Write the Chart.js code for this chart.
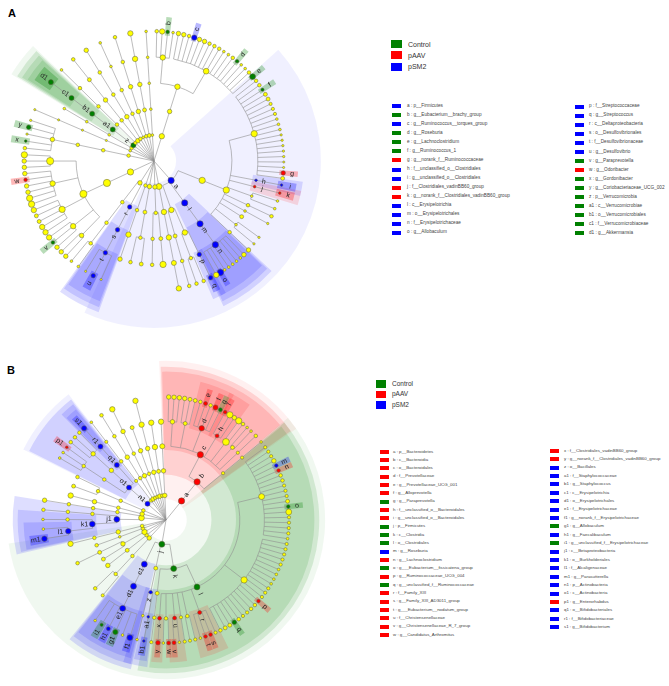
<!DOCTYPE html>
<html>
<head>
<meta charset="utf-8">
<script src="https://cdn.jsdelivr.net/npm/chart.js@4.4.0/dist/chart.umd.min.js"></script>
<style>
  body { margin: 0; width: 669px; height: 686px; overflow: hidden; background: #fff; position: relative;
         font-family: "Liberation Sans", Arial, sans-serif; }
  canvas { position: absolute; }
  .tag { position: absolute; font-weight: bold; font-size: 11px; color: #000; }
  .sw { position: absolute; }
  .tx { position: absolute; white-space: nowrap; color: #444; }
</style>
</head>
<body>
<div class="tag" style="left:8px;top:7px">A</div>
<div class="tag" style="left:7px;top:364px">B</div>
<canvas id="cladeA" width="350" height="350" style="left:-21px;top:-14px"></canvas>
<canvas id="cladeB" width="340" height="340" style="left:-4px;top:350px"></canvas>
<div id="legends"></div>
<script>
// groepen (C = Control, P = pAAV, S = pSM2)
const groups = ["Control", "pAAV", "pSM2"];
const groupColors = ["#008000", "#ff0000", "#0000ff"];
const shadeRGB = ["0,128,0", "255,0,0", "0,0,255"];

// boom A, met de klok mee vanaf boven. label:groep ^grootte ~gewicht +uitbreiding, #n = n gewone bladeren
const treeA = `
^3(^2.5(^3(^3(#1^2,#1^3,b:C^2,#1^1.5),^3.2(#2^2.5,#1^2,c:S^3,#2^2.5,#3^2,#2^1.5,#1^2,d:C^2,#2^1.5,#1^2,e:C^3.2)))),
a:S^3.5+4(
  ^3.5(^3.5(
    ^3.5(#2^2,f:C^1.8,#2^2.2,#3^1.8,#3^1.5,#2^1.3,#3^1.3,#2^1.2,g:P^2.5,#1^2.2),
    h:S^1.5(i:S^1.5~1.5),j:P^1.5(k:P^1.5~1.5),
    ^1.5(#2^1.5~1.5),^2(^2~1.5),^1.5(^1.3~1.5),^2.2~1.5,^1.5(#2^1.3~1.5),^2(^2.5~1.5))),
  l:S^3.5(m:S^3.5(n:S^3.5(#1^2.5~0.9,#5^1.5~0.9,o:S^3.5~0.9,#1^3~0.9))),
  ^3(^3(p:S^2.5(q:S^2.5~1.4),^2(#2^2~1.4)),^2.2(^2(^2~1.4)))),
^3.3(^3(^3(^2.8(^3~2.5)))),
^2.5(^2(^2.2(^3.5~2.5),^2(^2~2.5))),
^2.5(^2.2(^2(^2.2~2.5,^2~2.5))),
^2(^2(^3(^2.5~2.5))),
^2.5(r:S^2.5(s:S^2.5(t:S^2.5(^1.2~1.6,u:S^2.5~1.6,^1.2~1.6))),^2(^2(^2(^1.5~1.6,^1.5~1.6)))),
^3.5(^4(^4(^2.5(#2^2.5~1.15),^3(#1^2.5~1.15,v:C^2~1.15,#1^3~1.15),^3.5(#2^3~1.15,#2^2.2~1.15,#1^3~1.15),
  ^3(#2^3.5~1.15,#2^2.5~1.15,w:P^2~1.15,#1^2.5~1.15),^4(#2^2.5~1.15,#1^3.5~1.15)))),
^2(^2(^2(^2.5(#1^2~1.3,x:C^1.5~1.3,#1^1.3~1.3,y:C^2.5~1.3,#1^1.3~1.3)))),
^1.5(^1.2(^1.2(^1.2(^1.2~2.9)))),
^2(^1.5(^1.5(^1.5~2.9))),
z:C^2.8(a1:C^2.8(b1:C^2.8(c1:C^2.8(d1:C^2.8~3)))),
^2(^2(^2(^2(^1.5~2.9)))),
^2.5(^2(^2.5(^2.2(^2~2.9)))),
^2(^2.5(^2(^2(^2.5~2.9)))),
^1.5(^2(^2(^1.5(^1.5~2.9)))),
^2(^2.5(^2.5(^2(^2~2.9)))),
^2.2(^2.2(^2.5(^3(^3~2.9)))),
^1.5(^1.5(^1.5(^1.5(^1.5~2.9))))`;

const treeB = `
a:P^3.5(b:P^3.5(c:P^3.5(^2.5(#3^2.5),^2.2(#1^2.5,#2^2.2),d:P^3(#1^2,e:P^2.2,#1^2,f:P^2.8,g:C^2.2),
  h:P^2.2(i:P^2,^3.5,^2.5),^3.8(^3.5,^2),^2.2(^1.5,^1.5),^1.8(^2~1.5)),^1.8(^1.8(^1.5~1.5)))),
j:C^3.3+5(
  k:C^3.3(
    l:C^3.3(
      ^3.3(#3^1.8,#1^2.5,m:S^2,n:P^2,#2^2,#3^1.8,#1^2.2,o:C^2,#1^3.3,#4^1.8,#1^1.5),
      ^3.5(#5^1.8,#4^1.5,#3^1.8,p:P^2,#2^2,#2^1.8,#1^2,q:C^2.5,#2^2.2,#1^2),
      r:P^2.2(#1^1.8,s:P^2,t:P^2,#1^1.5),^2(#2^1.8),^1.8(^1.8),
      u:P^2.2(#1^1.5,v:P^2.2),^2(w:P^2.2,^1.5),x:P^2.2(y:P^2.5)),
    ^2.2(^2(^1.8~1.5))),
  ^2.2(z:S^2(a1:S^1.5(b1:S^1.5~1.3),^1.5(^1.5~1.3))),
  c1:S^3.3(d1:S^3.3(e1:S^3.3(f1:S^3.2~1.45,#1^1.5~1.45,g1:C^2.8~1.45,h1:S^2.2~1.45,i1:C^1.8~1.45,#1^1.5~1.45)))),
^2.5(^2(^2(^1.8~2.4,^2~2.4))),
^2(^2.2(^2.5~2.4)),
^3(^2.5(^2.2~2.4,^2.2(^2~2.4))),
^2(^1.5(^2~2.4)),
^2(^2.5(^2(^3~2.4))),
^3.2(j1:S^3.2(k1:S^3.2(l1:S^3(m1:S^3~1.8,^1.5~1.8),^2(^1.5~1.8)),^2(^2(^2~1.8))),^2(^2(^2(^2.5~1.8)))),
^2.5(^2(^2.5(^3~2.3))),
^2(^2(^2(^2.2~2.3,^2~2.3))),
n1:S^2.8(o1:S^2.8(^2(^2(#2^1.5~1.2,p1:P^1.5~1.2)),^2.5(^2.5(#3^2~1.2)),q1:S^2.8(r1:S^2.8(s1:S^2.8~1.2)))),
^2(^1.8(^2(^1.8(^1.5~2.3)))),
^2.5(^2(^2.5(^2(^2~2.3)))),
^2(^2.5(^2(^2.5(^3~2.3)))),
^2(^2(^2.5(^2.2~2.3))),
^2.5(^2.5(^2.5(^3(^3~2.3)))),
^2(^2.2(^3(^3~2.3))),
^2.5(^2.5(^2.8(^3~2.3)))`;

// legenda teksten
const lettersA = ["a","b","c","d","e","f","g","h","i","j","k","l","m","n","o",
                  "p","q","r","s","t","u","v","w","x","y","z","a1","b1","c1","d1"];
const taxaA = ["p__Firmicutes","g__Eubacterium__brachy_group","g__Ruminococcus__torques_group","g__Roseburia",
  "g__Lachnoclostridium","g__Ruminococcus_1","g__norank_f__Ruminococcaceae","f__unclassified_o__Clostridiales",
  "g__unclassified_o__Clostridiales","f__Clostridiales_vadinBB60_group","g__norank_f__Clostridiales_vadinBB60_group",
  "c__Erysipelotrichia","o__Erysipelotrichales","f__Erysipelotrichaceae","g__Allobaculum",
  "f__Streptococcaceae","g__Streptococcus","c__Deltaproteobacteria","o__Desulfovibrionales","f__Desulfovibrionaceae",
  "g__Desulfovibrio","g__Paraprevotella","g__Odoribacter","g__Gordonibacter","g__Coriobacteriaceae_UCG_002",
  "p__Verrucomicrobia","c__Verrucomicrobiae","o__Verrucomicrobiales","f__Verrucomicrobiaceae","g__Akkermansia"];
const lettersB = ["a","b","c","d","e","f","g","h","i","j","k","l","m","n","o","p","q","r","s","t","u","v","w",
                  "x","y","z","a1","b1","c1","d1","e1","f1","g1","h1","i1","j1","k1","l1","m1","n1","o1","p1","q1","r1","s1"];
const taxaB = ["p__Bacteroidetes","c__Bacteroidia","o__Bacteroidales","f__Prevotellaceae","g__Prevotellaceae_UCG_001",
  "g__Alloprevotella","g__Paraprevotella","f__unclassified_o__Bacteroidales","g__unclassified_o__Bacteroidales",
  "p__Firmicutes","c__Clostridia","o__Clostridiales","g__Roseburia","g__Lachnoclostridium",
  "g___Eubacterium__fissicatena_group","g__Ruminococcaceae_UCG_004","g__unclassified_f__Ruminococcaceae",
  "f__Family_XIII","g__Family_XIII_AD3011_group","g___Eubacterium__nodatum_group","f__Christensenellaceae",
  "g__Christensenellaceae_R_7_group","g__Candidatus_Arthromitus",
  "f__Clostridiales_vadinBB60_group","g__norank_f__Clostridiales_vadinBB60_group","o__Bacillales",
  "f__Staphylococcaceae","g__Staphylococcus","c__Erysipelotrichia","o__Erysipelotrichales","f__Erysipelotrichaceae",
  "g__norank_f__Erysipelotrichaceae","g__Allobaculum","g__Faecalibaculum","g__unclassified_f__Erysipelotrichaceae",
  "c__Betaproteobacteria","o__Burkholderiales","f__Alcaligenaceae","g__Parasutterella","p__Actinobacteria",
  "c__Actinobacteria","g__Enterorhabdus","o__Bifidobacteriales","f__Bifidobacteriaceae","g__Bifidobacterium"];

// boom-tekst inlezen
function parseTree(src) {
  const str = src.replace(/\s+/g, "");
  let i = 0;
  function num() {
    const m = /^[0-9.]+/.exec(str.slice(i));
    i += m[0].length;
    return parseFloat(m[0]);
  }
  function mods(n) {
    while (i < str.length && ":^~+".includes(str[i])) {
      const c = str[i++];
      if (c === ":") n.group = "CPS".indexOf(str[i++]);
      else if (c === "^") n.size = num();
      else if (c === "~") n.weight = num();
      else n.ext = num();
    }
  }
  function item() {
    if (str[i] === "#") {
      i++;
      const count = num();
      const proto = {};
      mods(proto);
      return Array.from({ length: count }, () => ({ ...proto, children: [] }));
    }
    const n = { children: [] };
    const m = /^[a-z][0-9]?/.exec(str.slice(i));
    if (m) { n.label = m[0]; i += m[0].length; }
    mods(n);
    if (str[i] === "(") { i++; n.children = list(); i++; }
    return [n];
  }
  function list() {
    const out = item();
    while (str[i] === ",") { i++; out.push(...item()); }
    return out;
  }
  return { children: list() };
}

// hoeken en stralen uitrekenen
function layout(root, ring) {
  const leaves = [], nodes = [];
  (function walk(n, d) {
    n.depth = d;
    n.r = d * ring;
    if (d > 0) nodes.push(n);
    n.children.forEach(c => walk(c, d + 1));
    if (!n.children.length) leaves.push(n);
  })(root, 0);
  const total = leaves.reduce((s, l) => s + (l.weight || 1), 0);
  let cum = 0;
  leaves.forEach(l => {
    l.a0 = cum / total * 360;
    cum += l.weight || 1;
    l.a1 = cum / total * 360;
    l.ang = (l.a0 + l.a1) / 2;
  });
  (function up(n) {
    if (!n.children.length) return;
    n.children.forEach(up);
    n.a0 = n.children[0].a0;
    n.a1 = n.children[n.children.length - 1].a1;
    n.ang = n.children.reduce((s, c) => s + c.ang, 0) / n.children.length;
  })(root);
  (function ext(n) {
    n.children.forEach((c, k) => {
      c.s1 = c.ext ? n.children[k + c.ext].a1 : c.a1;
      ext(c);
    });
  })(root);
  return nodes;
}

const defaultSize = [0, 3, 2.8, 2.5, 2.2, 1.8];
const sizeScale = 0.9;

function makeClade(canvasId, src, ring, range, outer) {
  const root = parseTree(src);
  const nodes = layout(root, ring);
  const toRad = d => (d - 90) * Math.PI / 180;

  const cladePlugin = {
    id: "clade",
    beforeDatasetsDraw(chart) {
      const ctx = chart.ctx;
      const cx = chart.scales.x.getPixelForValue(0);
      const cy = chart.scales.y.getPixelForValue(0);
      const k = chart.scales.x.getPixelForValue(1) - cx;
      ctx.save();
      // gekleurde sectoren voor de biomarkers
      nodes.filter(n => n.group >= 0).sort((p, q) => p.depth - q.depth).forEach(n => {
        const leaf = !n.children.length;
        let a0, a1, r0, r1, alpha;
        if (leaf) {
          const half = Math.max((n.a1 - n.a0) * 0.45, 2.6 / n.r * 180 / Math.PI);
          a0 = n.ang - half; a1 = n.ang + half;
          r0 = n.r - 4; r1 = n.r + 15; alpha = 0.28;
        } else {
          const pad = (6 - n.depth) * 0.5;
          a0 = n.a0 - pad; a1 = n.s1 + pad;
          r0 = n.r - 4; r1 = outer[n.depth];
          alpha = n.depth === 1 ? 0.06 : 0.13;
        }
        ctx.fillStyle = `rgba(${shadeRGB[n.group]},${alpha})`;
        ctx.beginPath();
        ctx.arc(cx, cy, r1 * k, toRad(a0), toRad(a1));
        ctx.arc(cx, cy, Math.max(r0, 0) * k, toRad(a1), toRad(a0), true);
        ctx.closePath();
        ctx.fill();
      });
      // takken
      ctx.strokeStyle = "#8e8e8e";
      ctx.lineWidth = 0.6;
      [root, ...nodes].forEach(n => {
        if (!n.children.length) return;
        ctx.beginPath();
        n.children.forEach(c => {
          const t = toRad(c.ang);
          ctx.moveTo(cx + n.r * k * Math.cos(t), cy + n.r * k * Math.sin(t));
          ctx.lineTo(cx + c.r * k * Math.cos(t), cy + c.r * k * Math.sin(t));
        });
        ctx.stroke();
        if (n.r > 0 && n.children.length > 1) {
          const angs = n.children.map(c => c.ang);
          ctx.beginPath();
          ctx.arc(cx, cy, n.r * k, toRad(Math.min(...angs)), toRad(Math.max(...angs)));
          ctx.stroke();
        }
      });
      ctx.restore();
    },
    afterDatasetsDraw(chart) {
      const ctx = chart.ctx;
      const cx = chart.scales.x.getPixelForValue(0);
      const cy = chart.scales.y.getPixelForValue(0);
      const k = chart.scales.x.getPixelForValue(1) - cx;
      ctx.save();
      ctx.fillStyle = "#222";
      ctx.font = '7px "Liberation Sans", Arial, sans-serif';
      ctx.textAlign = "center";
      ctx.textBaseline = "middle";
      nodes.filter(n => n.label).forEach(n => {
        const rr = (n.r + (n.children.length ? 8 : 9)) * k;
        const t = toRad(n.ang);
        ctx.save();
        ctx.translate(cx + rr * Math.cos(t), cy + rr * Math.sin(t));
        const rot = n.ang <= 180 ? n.ang - 90 : n.ang - 270;
        ctx.rotate(rot * Math.PI / 180);
        ctx.fillText(n.label, 0, 0);
        ctx.restore();
      });
      ctx.restore();
    }
  };

  const radii = nodes.map(n => (n.size || defaultSize[n.depth]) * sizeScale);
  new Chart(document.getElementById(canvasId), {
    type: "scatter",
    data: {
      datasets: [{
        data: nodes.map(n => ({
          x: n.r * Math.sin(n.ang * Math.PI / 180),
          y: n.r * Math.cos(n.ang * Math.PI / 180)
        })),
        pointRadius: radii,
        pointHoverRadius: radii,
        pointBackgroundColor: nodes.map(n => n.group >= 0 ? groupColors[n.group] : "#ffff00"),
        pointBorderColor: "rgba(95,95,70,0.85)",
        pointBorderWidth: 0.6
      }]
    },
    options: {
      responsive: false,
      animation: false,
      layout: { padding: 0 },
      scales: {
        x: { type: "linear", min: -range, max: range, display: false },
        y: { type: "linear", min: -range, max: range, display: false }
      },
      plugins: { legend: { display: false }, tooltip: { enabled: false } }
    },
    plugins: [cladePlugin]
  });

  const groupOf = {};
  nodes.forEach(n => { if (n.label) groupOf[n.label] = n.group; });
  return groupOf;
}

const groupA = makeClade("cladeA", treeA, 26.6, 175, [0, 171, 165, 160, 154, 149]);
const groupB = makeClade("cladeB", treeB, 25.2, 170, [0, 163, 157, 152, 146, 141]);

// legenda's in HTML
const box = document.getElementById("legends");
function swatch(x, y, w, h, color) {
  const d = document.createElement("div");
  d.className = "sw";
  d.style.cssText = `left:${x}px;top:${y}px;width:${w}px;height:${h}px;background:${color}`;
  box.appendChild(d);
}
function text(x, yc, fs, str, color) {
  const d = document.createElement("div");
  d.className = "tx";
  d.style.cssText = `left:${x}px;top:${yc - fs / 2}px;font-size:${fs}px;line-height:${fs}px` + (color ? `;color:${color}` : "");
  d.textContent = str;
  box.appendChild(d);
}
function groupLegend(x, y, dy, w, h, tx, fs) {
  groups.forEach((g, i) => {
    swatch(x, y + i * dy, w, h, groupColors[i]);
    text(tx, y + i * dy + h / 2, fs, g, "#333");
  });
}
function taxaLegend(letters, taxa, groupOf, from, to, swX, txX, y0, dy, fs) {
  for (let i = from; i < to; i++) {
    const yc = y0 + (i - from) * dy;
    swatch(swX, yc - 2, 9, 4, groupColors[groupOf[letters[i]]]);
    text(txX, yc, fs, `${letters[i]} : ${taxa[i]}`);
  }
}
groupLegend(391, 40, 11.4, 11, 8, 408, 7);
taxaLegend(lettersA, taxaA, groupA, 0, 15, 391.5, 407, 106.3, 9.03, 4.7);
taxaLegend(lettersA, taxaA, groupA, 15, 30, 574.5, 589, 106.7, 9.03, 4.7);
groupLegend(376, 380, 10.5, 10, 7.5, 392, 6.5);
taxaLegend(lettersB, taxaB, groupB, 0, 23, 380, 393, 451.7, 8.33, 4.4);
taxaLegend(lettersB, taxaB, groupB, 23, 45, 550, 564, 450.7, 8.4, 4.4);
</script>
</body>
</html>
